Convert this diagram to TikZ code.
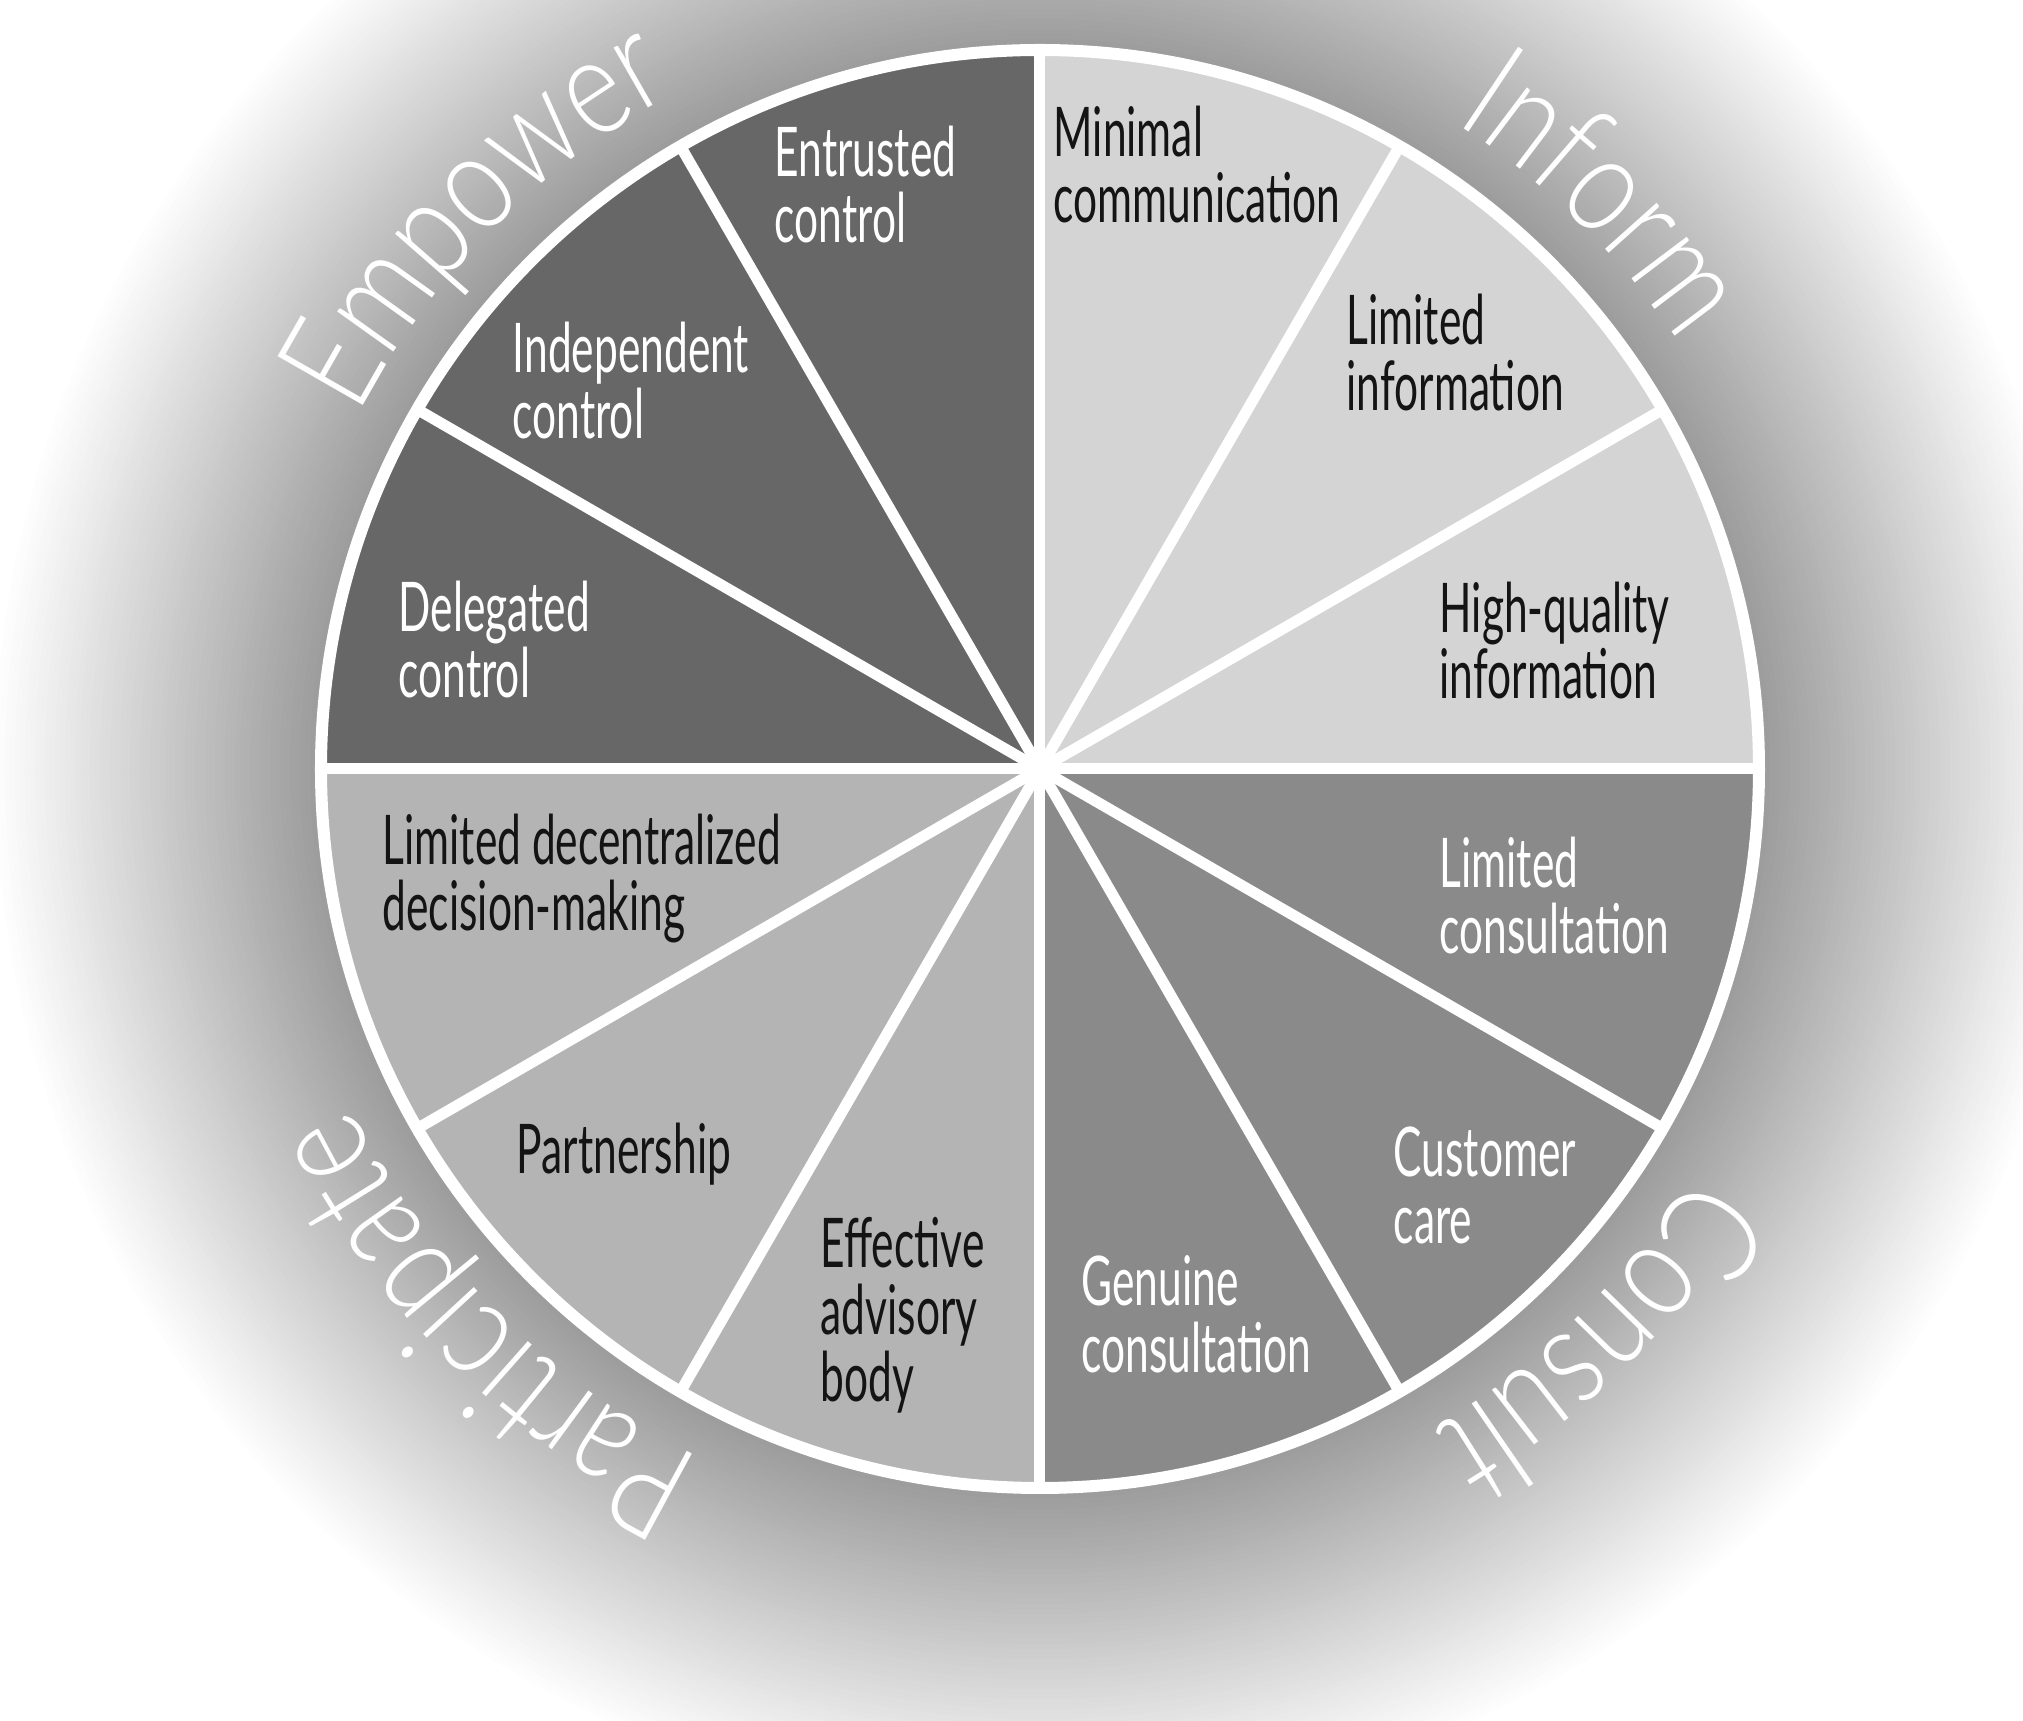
\documentclass[tikz,border=0pt]{standalone}
\usepackage{fontspec}
\usetikzlibrary{decorations.text}
\newfontfamily\labelfont[FakeStretch=0.62]{Lato}
\IfFontExistsTF{Lato Light}
  {\newfontfamily\ringfont[FakeStretch=0.8]{Lato Light}}
  {\newfontfamily\ringfont[FakeStretch=0.8]{Lato}}
\newcommand\ringtext{\ringfont\fontsize{39.5}{40}\selectfont}
\definecolor{empowergray}{HTML}{676767}
\definecolor{informgray}{HTML}{D4D4D4}
\definecolor{consultgray}{HTML}{8A8A8A}
\definecolor{participategray}{HTML}{B4B4B4}
\definecolor{labelblack}{HTML}{141414}

\begin{document}
\begin{tikzpicture}
[spoke/.style={white,line width=1.1mm},
 rim/.style={white,line width=1.2mm},
 lbl/.style={anchor=north west,align=left,inner sep=0pt,font=\labelfont\fontsize{19.5}{19}\selectfont},
 light/.style={lbl,text=labelblack},
 dark/.style={lbl,text=white},
 ring/.style={decorate,decoration={text along path,text align=center,text color=white}}]
\useasboundingbox (-10.40,-9.52) rectangle (9.83,7.69);
\foreach \r in {10.6,10.55,...,7.2} {
  \pgfmathsetmacro\k{min(39,max(0,12*(10.5-\r)))}
  \fill[black!\k] (0,0) circle[radius=\r];
}
\def\R{7.19}
\foreach \a/\c in {0/informgray,90/empowergray,180/participategray,270/consultgray}
  \fill[\c] (0,0) -- (\a:\R) arc[start angle=\a,end angle=\a+90,radius=\R] -- cycle;
\foreach \a in {0,30,...,330}
  \draw[spoke] (0,0) -- (\a:\R);
\draw[rim] (0,0) circle[radius=\R];
\coordinate (hub) at (0,0);
\path[ring,decoration={text={|\ringtext|Empower}}] (167.5:7.68) arc[start angle=167.5,end angle=103.5,radius=7.68];
\path[ring,decoration={text={|\ringtext|Inform}}] (77.5:7.68) arc[start angle=77.5,end angle=13.5,radius=7.68];
\path[ring,decoration={text={|\ringtext|Consult}}] (-13.5:7.68) arc[start angle=-13.5,end angle=-77.5,radius=7.68];
\path[ring,decoration={text={|\ringtext|Participate}}] (-103:7.68) arc[start angle=-103,end angle=-167,radius=7.68];
\node[light] (minimal) at (0.13,6.64) {Minimal\\communication};
\node[light] (limitedinfo) at (3.06,4.76) {Limited\\information};
\node[light] (hqinfo) at (3.99,1.88) {High-quality\\information};
\node[dark] (limitedcons) at (3.99,-0.67) {Limited\\consultation};
\node[dark] (custcare) at (3.53,-3.57) {Customer\\care};
\node[dark] (genuine) at (0.41,-4.86) {Genuine\\consultation};
\node[light] (advisory) at (-2.20,-4.48) {Effective\\advisory\\body};
\node[light] (partnership) at (-5.24,-3.53) {Partnership};
\node[light] (decentral) at (-6.58,-0.44) {Limited decentralized\\decision-making};
\node[dark] (delegated) at (-6.42,1.89) {Delegated\\control};
\node[dark] (independent) at (-5.28,4.48) {Independent\\control};
\node[dark] (entrusted) at (-2.66,6.44) {Entrusted\\control};
\end{tikzpicture}
\end{document}
